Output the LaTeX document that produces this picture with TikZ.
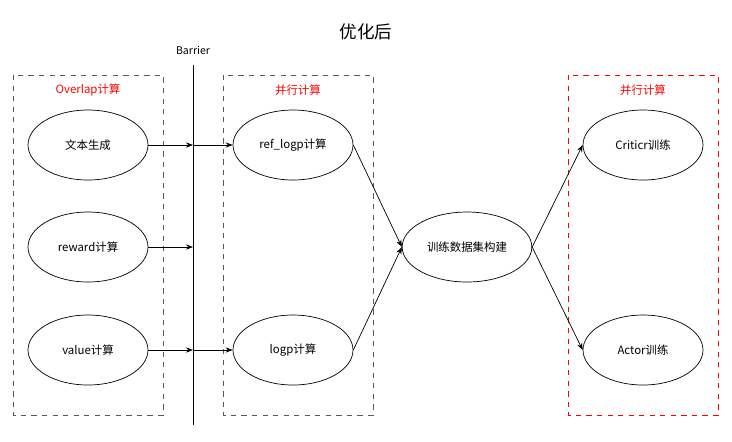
\documentclass[tikz,border=0pt]{standalone}
\usepackage{fontspec}
\setmainfont{Noto Sans CJK SC}
\usetikzlibrary{shapes.geometric,arrows.meta}
\definecolor{boxred}{RGB}{255,0,0}

\tikzset{
	job/.style={draw,ellipse,minimum width=2.4cm,minimum height=1.4cm,font=\fontsize{6.5}{8}\selectfont},
	grp/.style={draw,dashed,gray!70!black},
	ttl/.style={text=boxred,font=\fontsize{6.5}{8}\selectfont},
	go/.style={-{Stealth[length=4pt,width=3pt]}}
}

\begin{document}
\begin{tikzpicture}[x=0.02cm,y=-0.02cm]
	\useasboundingbox (0,0) rectangle (732,441);
	\node at (366,32){\fontsize{10}{12}\selectfont 优化后};

	% barrier
	\node[font=\fontsize{6}{8}\selectfont] at (193,50)(bar){Barrier};
	\draw (193,65)--(193,425);
	\coordinate (b1) at (193,145);
	\coordinate (b2) at (193,247);
	\coordinate (b3) at (193,350);

	% groups
	\draw[grp] (13,75) rectangle (163,415);
	\node[ttl] at (88,90)(g1){Overlap计算};
	\draw[grp] (223,75) rectangle (373,415);
	\node[ttl] at (298,90)(g2){并行计算};
	\draw[dashed,boxred] (568,75) rectangle (718,415);
	\node[ttl] at (643,90)(g3){并行计算};

	\node[job] at (88,145)(gen){文本生成};
	\node[job] at (88,247)(rew){reward计算};
	\node[job] at (88,350)(val){value计算};
	\node[job] at (293,145)(ref){ref\_logp计算};
	\node[job] at (293,350)(lgp){logp计算};
	\node[job] at (467,247)(data){训练数据集构建};
	\node[job] at (643,145)(crit){Criticr训练};
	\node[job] at (643,350)(act){Actor训练};

	\path[go](gen)edge(b1)(b1)edge(ref)(rew)edge(b2)(val)edge(b3)(b3)edge(lgp);
	\path[go](ref.east)edge(data.west)(lgp.east)edge(data.west);
	\path[go](data.east)edge(crit.west)(data.east)edge(act.west);
\end{tikzpicture}
\end{document}
